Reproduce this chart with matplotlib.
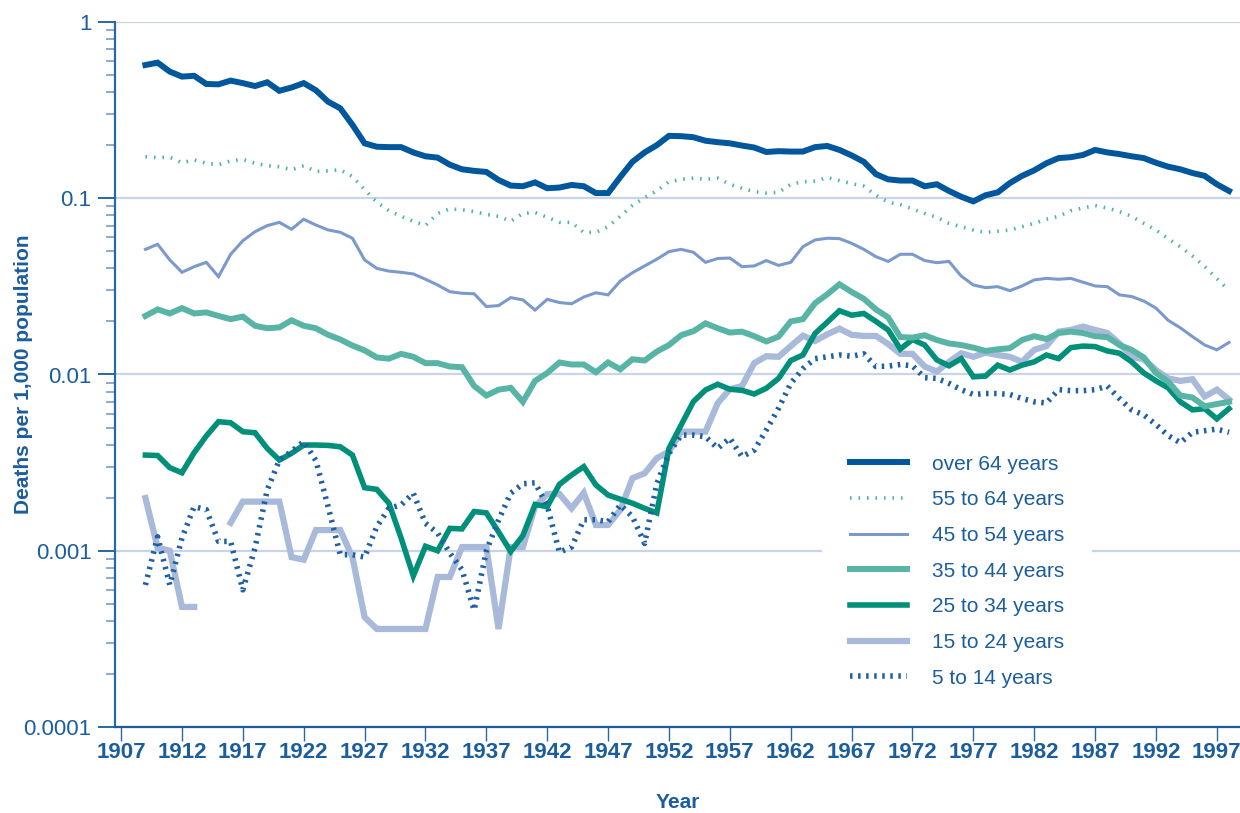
import numpy as np
import matplotlib
matplotlib.use("Agg")
import matplotlib.pyplot as plt
from matplotlib.ticker import LogLocator, NullFormatter, FixedLocator, FixedFormatter

plt.rcParams['font.family'] = ['Liberation Sans', 'DejaVu Sans']

nan = np.nan
years = np.arange(1909, 1999)

# deaths per 1,000 population, 1909-1998
over_64 = [0.570, 0.588, 0.523, 0.490, 0.495, 0.445, 0.443, 0.465, 0.450, 0.433, 0.455, 0.407, 0.425, 0.450, 0.410,
           0.353, 0.324, 0.261, 0.205, 0.196, 0.195, 0.195, 0.182, 0.173, 0.170, 0.155, 0.146, 0.143, 0.141, 0.127, 0.118,
           0.117, 0.123, 0.114, 0.115, 0.119, 0.117, 0.107, 0.107, 0.132, 0.161, 0.182, 0.200, 0.226, 0.225, 0.222, 0.212,
           0.208, 0.205, 0.199, 0.194, 0.183, 0.185, 0.184, 0.184, 0.195, 0.198, 0.188, 0.175, 0.161, 0.137, 0.128, 0.126,
           0.126, 0.117, 0.120, 0.110, 0.102, 0.096, 0.104, 0.108, 0.122, 0.134, 0.144, 0.158, 0.169, 0.171, 0.176, 0.188,
           0.182, 0.178, 0.173, 0.169, 0.159, 0.151, 0.146, 0.139, 0.134, 0.120, 0.110]
age_55_64 = [0.172, 0.170, 0.171, 0.159, 0.165, 0.158, 0.155, 0.163, 0.166, 0.158, 0.153, 0.151, 0.145, 0.153, 0.142,
             0.143, 0.145, 0.133, 0.112, 0.095, 0.085, 0.079, 0.074, 0.070, 0.082, 0.087, 0.086, 0.084, 0.081, 0.079, 0.074,
             0.082, 0.083, 0.078, 0.073, 0.073, 0.064, 0.064, 0.069, 0.079, 0.091, 0.101, 0.110, 0.124, 0.128, 0.130, 0.128,
             0.130, 0.120, 0.114, 0.109, 0.107, 0.108, 0.120, 0.124, 0.125, 0.131, 0.126, 0.121, 0.117, 0.104, 0.095, 0.092,
             0.087, 0.082, 0.078, 0.072, 0.069, 0.066, 0.064, 0.065, 0.066, 0.069, 0.072, 0.076, 0.079, 0.085, 0.088, 0.091,
             0.088, 0.084, 0.079, 0.072, 0.066, 0.059, 0.053, 0.047, 0.041, 0.035, 0.030]
age_45_54 = [0.0513, 0.0548, 0.0447, 0.0380, 0.0409, 0.0433, 0.0359, 0.0481, 0.0574, 0.0646, 0.0699, 0.0730, 0.0667,
             0.0760, 0.0705, 0.0661, 0.0641, 0.0593, 0.0447, 0.0400, 0.0386, 0.0380, 0.0372, 0.0347, 0.0322, 0.0295,
             0.0289, 0.0287, 0.0243, 0.0246, 0.0273,
             0.0265, 0.0232, 0.0267, 0.0256, 0.0252, 0.0275, 0.0291, 0.0283, 0.0339, 0.0378, 0.0413, 0.0451, 0.0498,
             0.0513, 0.0494, 0.0433, 0.0455, 0.0458, 0.0409, 0.0413, 0.0443, 0.0416, 0.0433, 0.0531, 0.0580, 0.0593,
             0.0590, 0.0555, 0.0513, 0.0466, 0.0438, 0.0481,
             0.0481, 0.0443, 0.0431, 0.0438, 0.0362, 0.0322, 0.0311, 0.0315, 0.0299, 0.0318, 0.0344, 0.0351, 0.0347,
             0.0351, 0.0334, 0.0318, 0.0315, 0.0283, 0.0277, 0.0261, 0.0238, 0.0203, 0.0184, 0.0164, 0.0147, 0.0138, 0.0152]
age_35_44 = [0.0215, 0.0234, 0.0222, 0.0238, 0.0222, 0.0225, 0.0215, 0.0206, 0.0213, 0.0189, 0.0183, 0.0185, 0.0203,
             0.0189, 0.0183, 0.0168, 0.0158, 0.0146, 0.0137, 0.0125, 0.0123, 0.0131, 0.0126, 0.0116, 0.0116, 0.0111,
             0.0110, 0.0086, 0.0076, 0.0082, 0.0084,
             0.0070, 0.0092, 0.0102, 0.0117, 0.0114, 0.0114, 0.0103, 0.0117, 0.0107, 0.0122, 0.0120, 0.0135, 0.0147,
             0.0167, 0.0176, 0.0195, 0.0183, 0.0173, 0.0175, 0.0165, 0.0154, 0.0164, 0.0200, 0.0206, 0.0254, 0.0285,
             0.0325, 0.0294, 0.0269, 0.0234, 0.0211, 0.0163,
             0.0162, 0.0167, 0.0157, 0.0150, 0.0147, 0.0142, 0.0136, 0.0139, 0.0141, 0.0157, 0.0165, 0.0159, 0.0172,
             0.0175, 0.0172, 0.0165, 0.0163, 0.0147, 0.0138, 0.0125, 0.0102, 0.0091, 0.0076, 0.0074, 0.0066, 0.0068, 0.0070]
age_25_34 = [0.00349, 0.00347, 0.00296, 0.00277, 0.00360, 0.00448, 0.00540, 0.00532, 0.00474, 0.00467, 0.00381,
             0.00327, 0.00357, 0.00398, 0.00398, 0.00396, 0.00389, 0.00349, 0.00228, 0.00223, 0.00186, 0.00118,
             0.00072, 0.00106, 0.00100, 0.00134, 0.00133, 0.00167, 0.00164, 0.00128, 0.00099,
             0.00122, 0.00183, 0.00178, 0.00238, 0.00269, 0.00300, 0.00236, 0.00207, 0.00196, 0.00186, 0.00174,
             0.00164, 0.00381, 0.00517, 0.00701, 0.00817, 0.00880, 0.00825, 0.00813, 0.00775, 0.00836, 0.00950,
             0.01200, 0.01290, 0.01710, 0.01980, 0.02300, 0.02170, 0.02220, 0.02000, 0.01790, 0.01395,
             0.0158, 0.0147, 0.0121, 0.0112, 0.0123, 0.0097, 0.0098, 0.0113, 0.0106, 0.0113, 0.0118, 0.0129, 0.0123,
             0.0142, 0.0145, 0.0144, 0.0136, 0.0132, 0.0118, 0.0102, 0.0092, 0.0084, 0.0070, 0.0063, 0.0064, 0.0056, 0.0064]
age_15_24 = [0.00199, 0.00104, 0.00100, 0.00048, 0.00048, nan, nan, 0.00144, 0.00190, 0.00190, 0.00190, 0.00190,
             0.00092, 0.00089, 0.00131, 0.00131, 0.00131, 0.00092, 0.00042, 0.00036, 0.00036, 0.00036, 0.00036,
             0.00036, 0.00071, 0.00071, 0.00105, 0.00105, 0.00105, 0.00036, 0.00105,
             0.00105, 0.00178, 0.00210, 0.00210, 0.00174, 0.00213, 0.00140, 0.00140, 0.00170, 0.00258, 0.00275,
             0.00335, 0.00365, 0.00474, 0.00474, 0.00474, 0.00687, 0.00825, 0.00860, 0.01160, 0.01270, 0.01260,
             0.01450, 0.01660, 0.01550, 0.01690, 0.01820, 0.01680, 0.01655, 0.01655, 0.01490, 0.01310,
             0.0131, 0.0111, 0.0104, 0.0118, 0.0132, 0.0126, 0.0133, 0.0129, 0.0126, 0.0118, 0.0138, 0.0145, 0.0175,
             0.0179, 0.0187, 0.0179, 0.0172, 0.0150, 0.0126, 0.0122, 0.0106, 0.0095, 0.0092, 0.0094, 0.0075, 0.0082, 0.0072]
age_5_14 = [0.00064, 0.00120, 0.00064, 0.00118, 0.00178, 0.00171, 0.00113, 0.00113, 0.00060, 0.00104, 0.00221,
            0.00327, 0.00366, 0.00416, 0.00325, 0.00178, 0.00095, 0.00095, 0.00092, 0.00137, 0.00174, 0.00182,
            0.00212, 0.00143, 0.00126, 0.00097, 0.00078, 0.00046, 0.00100, 0.00149, 0.00212,
            0.00240, 0.00243, 0.00180, 0.00098, 0.00105, 0.00150, 0.00150, 0.00146, 0.00182, 0.00156, 0.00110,
            0.00240, 0.00357, 0.00453, 0.00453, 0.00444, 0.00381, 0.00435, 0.00342, 0.00372, 0.00485, 0.00643,
            0.00890, 0.01080, 0.01230, 0.01260, 0.01290, 0.01270, 0.01310, 0.01110, 0.01115, 0.01140,
            0.0112, 0.0096, 0.0095, 0.0089, 0.0082, 0.0077, 0.0078, 0.0078, 0.0077, 0.0073, 0.0070, 0.0069, 0.0082,
            0.0081, 0.0081, 0.0082, 0.0086, 0.0073, 0.0063, 0.0059, 0.0052, 0.0045, 0.0041, 0.0047, 0.0048, 0.0049, 0.0047]

labels = ['over 64 years', '55 to 64 years', '45 to 54 years', '35 to 44 years',
          '25 to 34 years', '15 to 24 years', '5 to 14 years']
series = [over_64, age_55_64, age_45_54, age_35_44, age_25_34, age_15_24, age_5_14]
styles = [
    dict(color='#00579c', lw=4.3),
    dict(color='#4fb3a5', lw=2.6, ls=(0, (0.45, 1.9))),
    dict(color='#7b9acb', lw=2.2),
    dict(color='#58b5a6', lw=4.3),
    dict(color='#00907a', lw=4.0),
    dict(color='#a8b9da', lw=4.5),
    dict(color='#1f5fa3', lw=4.0, ls=(0, (0.45, 1.0))),
]

TEXT = '#1b5d9d'
AXIS = '#2a67a5'

fig = plt.figure(figsize=(12.4, 8.13), dpi=100)
ax = fig.add_axes([115 / 1240, 1 - 727 / 813, 1125 / 1240, 705 / 813])

# draw back to front so thin/dotted lines sit on top like the original
order = [5, 4, 3, 2, 6, 1, 0]
handles = {}
for i in order:
    ln, = ax.plot(years, series[i], label=labels[i], solid_joinstyle='miter', **styles[i])
    handles[i] = ln

ax.set_yscale('log')
ax.set_ylim(1e-4, 1)
ax.set_xlim(1906.5, 1998.9)

ax.yaxis.set_major_locator(FixedLocator([1e-4, 1e-3, 1e-2, 1e-1, 1]))
ax.yaxis.set_major_formatter(FixedFormatter(['0.0001', '0.001', '0.01', '0.1', '1']))
ax.yaxis.set_minor_locator(LogLocator(base=10, subs=np.arange(2, 10)))
ax.yaxis.set_minor_formatter(NullFormatter())
ax.set_xticks(np.arange(1907, 1998, 5))

ax.tick_params(axis='y', which='major', length=12, width=1.4, color=AXIS, labelcolor=TEXT,
               labelsize=16, pad=5)
ax.tick_params(axis='y', which='minor', length=6.5, width=1.1, color='#6f93c4')
ax.tick_params(axis='x', which='major', length=10, width=1.0, color=AXIS, labelcolor=TEXT,
               labelsize=16, pad=1)
for t in ax.get_xticklabels():
    t.set_fontfamily(['Liberation Sans Narrow', 'Liberation Sans'])
    t.set_fontweight('bold')

ax.grid(True, axis='y', which='major', color='#c9d4e8', lw=1.6)
ax.set_axisbelow(True)
for s in ['top', 'right']:
    ax.spines[s].set_visible(False)
ax.spines['left'].set_color(AXIS)
ax.spines['left'].set_linewidth(1.6)
ax.spines['bottom'].set_color('#1f5a9a')
ax.spines['bottom'].set_linewidth(1.6)

ax.set_xlabel('Year', fontsize=15, fontweight='bold', color=TEXT)
ax.xaxis.set_label_coords(0.5, -0.094)
ax.set_ylabel('Deaths per 1,000 population', fontsize=15, fontweight='bold', color=TEXT)
ax.yaxis.set_label_coords(-0.073, 0.5)

leg = ax.legend([handles[i] for i in range(7)], labels, loc='upper left',
                bbox_to_anchor=(822 / 1240, 1 - 427 / 813), bbox_transform=fig.transFigure,
                borderaxespad=0, frameon=True, fancybox=False, fontsize=15,
                handlelength=2.76, handletextpad=1.19, borderpad=1.33, labelspacing=0.80)
leg.get_frame().set_facecolor('white')
leg.get_frame().set_edgecolor('none')
leg.get_frame().set_alpha(1)
for t in leg.get_texts():
    t.set_color(TEXT)

fig.savefig('out.png', dpi=100)
